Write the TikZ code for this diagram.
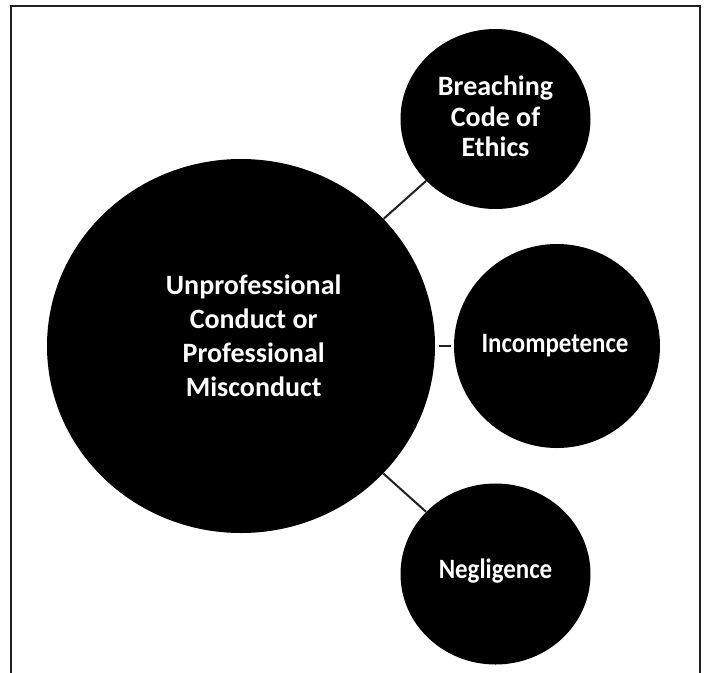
\documentclass[tikz,border=0pt]{standalone}
\usepackage{fontspec}
\setmainfont{Carlito}
\usetikzlibrary {shapes.geometric}

\definecolor{framegray}{HTML}{231F20}

\begin{document}
\begin{tikzpicture}[x=0.75pt,y=-0.75pt,
        bubble/.style={ellipse, fill=black, draw=none, inner sep=0pt},
        bubbletext/.style={align=center, text=white, font=\bfseries\fontsize{21}{23}\selectfont},
        narrow/.style={font=\bfseries\fontsize{21}{23}\selectfont\addfontfeature{FakeStretch=0.89}},
        link/.style={draw=framegray, line width=1.5pt}]

            %\draw [help lines] (0,0) grid (704,672);
            \useasboundingbox (0,0) rectangle (704,672);
            \draw [framegray, line width=1.8pt] (11,680) -- (11,6) -- (700,6) -- (700,680);

            \path   (241,346) node (a) [bubble, minimum width=291pt, minimum height=280.5pt,
                                        label={[bubbletext, xshift=9.5pt, yshift=7.5pt,
                                                font=\bfseries\fontsize{21}{25.5}\selectfont]center:Unprofessional\\Conduct or\\Professional\\Misconduct}] {}
                    (495.5,119) node (b) [bubble, minimum width=142.5pt, minimum height=135pt,
                                          label={[bubbletext, yshift=2pt]center:Breaching\\Code of\\Ethics}] {}
                    (557,346) node (c) [bubble, minimum width=154.5pt, minimum height=153pt,
                                        label={[bubbletext, narrow, xshift=-1.5pt]center:Incompetence}] {}
                    (495.5,574) node (d) [bubble, minimum width=142.5pt, minimum height=135.75pt,
                                          label={[bubbletext, narrow, yshift=2pt]center:Negligence}] {};

            \draw [link] (a) -- (b);
            \draw [link, shorten <=3pt, shorten >=2pt] (a) -- (c);
            \draw [link] (a) -- (d);

        \end{tikzpicture}
\end{document}
